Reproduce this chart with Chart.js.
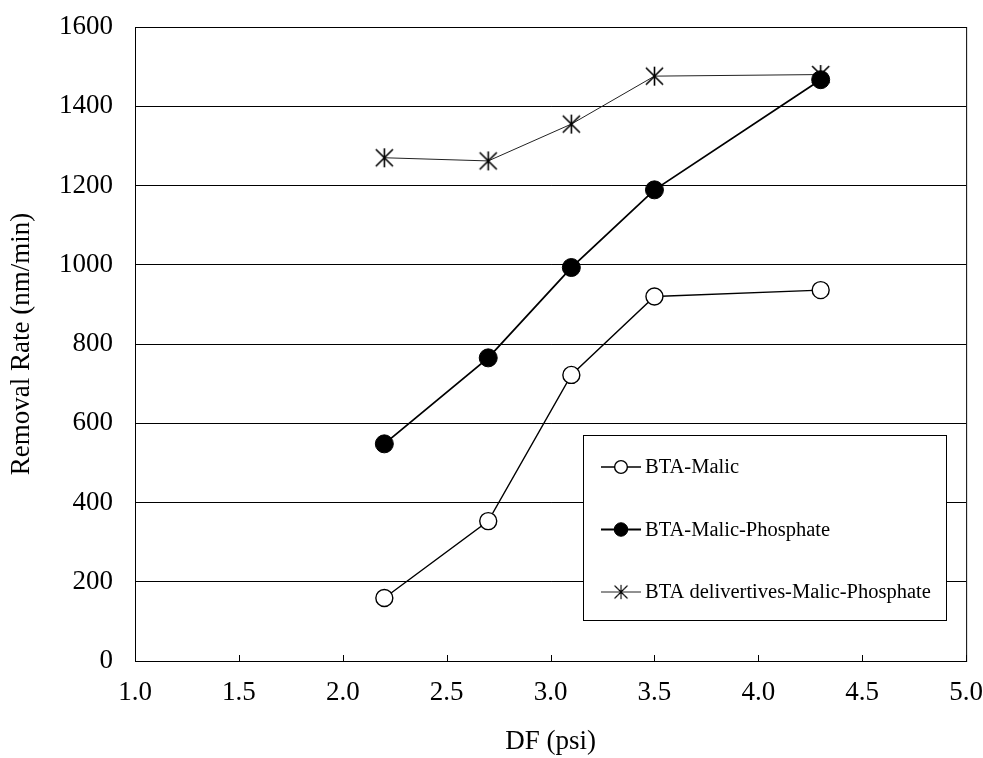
<!DOCTYPE html>
<html>
<head>
<meta charset="utf-8">
<title>Removal Rate vs DF</title>
<script src="https://cdn.jsdelivr.net/npm/chart.js@4.4.1/dist/chart.umd.min.js"></script>
<style>
  html, body { margin: 0; padding: 0; background: #fff; }
  #wrap { width: 983px; height: 758px; }
</style>
</head>
<body>
<div id="wrap"><canvas id="rateChart" width="983" height="758"></canvas></div>
<script>
// down force (psi) and removal rate (nm/min) for each slurry
const dfValues = [2.2, 2.7, 3.1, 3.5, 4.3];
const malicRates = [159, 353, 722, 920, 936];
const phosphateRates = [548, 765, 993, 1189, 1467];
const derivativeRates = [1270, 1262, 1355, 1476, 1480];
const seriesNames = ['BTA-Malic', 'BTA-Malic-Phosphate', 'BTA delivertives-Malic-Phosphate'];
const xTickValues = [1.0, 1.5, 2.0, 2.5, 3.0, 3.5, 4.0, 4.5, 5.0];
const yTickValues = [0, 200, 400, 600, 800, 1000, 1200, 1400, 1600];

const serif = "'Liberation Serif', 'Times New Roman', serif";

// asterisk marker: vertical bar plus an X
function makeStar(size, lw) {
  const c = document.createElement('canvas');
  c.width = size; c.height = size;
  const g = c.getContext('2d');
  g.strokeStyle = '#000';
  g.lineWidth = lw;
  const m = size / 2, r = size / 2 - 1;
  const d = r * 0.9;
  g.beginPath();
  g.moveTo(m, m - r); g.lineTo(m, m + r);
  g.moveTo(m - d, m - d); g.lineTo(m + d, m + d);
  g.moveTo(m + d, m - d); g.lineTo(m - d, m + d);
  g.stroke();
  return c;
}
const starImg = makeStar(21, 1.6);

function toPoints(ys) {
  return dfValues.map((x, i) => ({ x: x, y: ys[i] }));
}

// box around the plot and short inward ticks on the x axis
const framePlugin = {
  id: 'frame',
  afterDatasetsDraw(chart) {
    const { ctx, chartArea: a, scales } = chart;
    ctx.save();
    ctx.strokeStyle = '#000';
    ctx.lineWidth = 1;
    ctx.strokeRect(a.left + 0.5, a.top + 0.5, a.right - a.left, a.bottom - a.top);
    ctx.beginPath();
    xTickValues.forEach(v => {
      const px = Math.round(scales.x.getPixelForValue(v)) + 0.5;
      ctx.moveTo(px, a.bottom);
      ctx.lineTo(px, a.bottom - 6);
    });
    ctx.stroke();
    ctx.restore();
  }
};

// boxed legend sitting in the lower right of the plot
const boxLegend = {
  id: 'boxLegend',
  afterDraw(chart) {
    const { ctx, chartArea: a } = chart;
    const left = a.left + 448, top = a.top + 408;
    const w = 363, h = 185;
    ctx.save();
    ctx.fillStyle = '#fff';
    ctx.fillRect(left, top, w, h);
    ctx.strokeStyle = '#000';
    ctx.lineWidth = 1;
    ctx.strokeRect(left + 0.5, top + 0.5, w, h);
    ctx.font = '20.5px ' + serif;
    ctx.textBaseline = 'middle';
    ctx.textAlign = 'left';
    chart.data.datasets.forEach((ds, i) => {
      const y = top + 32 + i * 62.5;
      const x0 = left + 18, x1 = left + 58, xm = (x0 + x1) / 2;
      ctx.strokeStyle = ds.borderColor;
      ctx.lineWidth = ds.borderWidth;
      ctx.beginPath();
      ctx.moveTo(x0, y); ctx.lineTo(x1, y);
      ctx.stroke();
      if (ds.pointStyle === 'circle') {
        ctx.beginPath();
        ctx.arc(xm, y, ds.pointRadius * 0.75, 0, Math.PI * 2);
        ctx.fillStyle = ds.pointBackgroundColor;
        ctx.fill();
        ctx.lineWidth = ds.pointBorderWidth;
        ctx.strokeStyle = '#000';
        ctx.stroke();
      } else {
        ctx.drawImage(ds.pointStyle, xm - 8, y - 8, 16, 16);
      }
      ctx.fillStyle = '#000';
      ctx.fillText(ds.label, left + 62, y + 1);
    });
    ctx.restore();
  }
};

new Chart(document.getElementById('rateChart'), {
  type: 'line',
  data: {
    datasets: [
      {
        label: seriesNames[0],
        data: toPoints(malicRates),
        borderColor: '#000',
        borderWidth: 1.4,
        pointStyle: 'circle',
        pointRadius: 8.5,
        pointBackgroundColor: '#fff',
        pointBorderColor: '#000',
        pointBorderWidth: 1.4,
        order: 1
      },
      {
        label: seriesNames[1],
        data: toPoints(phosphateRates),
        borderColor: '#000',
        borderWidth: 1.8,
        pointStyle: 'circle',
        pointRadius: 9,
        pointBackgroundColor: '#000',
        pointBorderColor: '#000',
        pointBorderWidth: 1,
        order: 2
      },
      {
        label: seriesNames[2],
        data: toPoints(derivativeRates),
        borderColor: '#222',
        borderWidth: 1,
        pointStyle: starImg,
        pointRadius: 10,
        order: 3
      }
    ]
  },
  options: {
    responsive: false,
    animation: false,
    events: [],
    layout: { autoPadding: false, padding: { top: 27, right: 16, left: 0, bottom: 0 } },
    plugins: {
      legend: { display: false },
      tooltip: { enabled: false }
    },
    scales: {
      x: {
        type: 'linear',
        min: 1,
        max: 5,
        afterBuildTicks: s => { s.ticks = xTickValues.map(v => ({ value: v })); },
        afterFit: s => { s.height = 97; },
        // invisible tick marks keep the labels off the axis
        grid: { drawOnChartArea: false, drawTicks: true, tickLength: 16, tickColor: 'rgba(0,0,0,0)' },
        border: { display: true, color: '#000', width: 1 },
        ticks: {
          padding: 0,
          color: '#000',
          font: { family: serif, size: 27 },
          maxRotation: 0,
          callback: v => Number(v).toFixed(1)
        },
        title: {
          display: true,
          text: 'DF (psi)',
          color: '#000',
          font: { family: serif, size: 27 },
          padding: { top: 0, bottom: 0 }
        }
      },
      y: {
        min: 0,
        max: 1600,
        afterBuildTicks: s => { s.ticks = yTickValues.map(v => ({ value: v })); },
        afterFit: s => { s.width = 135; },
        grid: { color: '#000', lineWidth: 1, drawTicks: true, tickLength: 22, tickColor: 'rgba(0,0,0,0)' },
        border: { display: true, color: '#000', width: 1 },
        ticks: {
          padding: 0,
          color: '#000',
          font: { family: serif, size: 27 },
          callback: v => String(v)
        },
        title: {
          display: true,
          text: 'Removal Rate (nm/min)',
          color: '#000',
          font: { family: serif, size: 27 },
          padding: { top: 6, bottom: 0 }
        }
      }
    }
  },
  plugins: [framePlugin, boxLegend]
});
</script>
</body>
</html>
